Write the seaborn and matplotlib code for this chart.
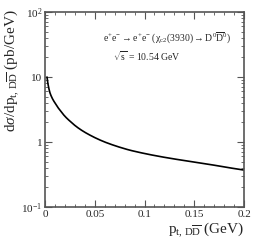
import numpy as np
import pandas as pd
import matplotlib
matplotlib.use("Agg")
import matplotlib.pyplot as plt
import matplotlib.ticker as mticker
import seaborn as sns

# === values ===
pt = [0.002, 0.005, 0.01, 0.015, 0.025, 0.035, 0.045, 0.06, 0.085, 0.11, 0.136, 0.17, 0.2]
xsec = [10.0, 5.7, 4.0, 3.1, 2.1, 1.58, 1.28, 1.0, 0.75, 0.62, 0.53, 0.44, 0.37]
ytick_vals = [0.1, 1, 10, 100]
ytick_labels = ["$10^{-1}$", "1", "10", "$10^{2}$"]
xtick_vals = [0, 0.05, 0.1, 0.15, 0.2]
xtick_labels = ["0", "0.05", "0.1", "0.15", "0.2"]

sns.set_style("ticks")
plt.rcParams["font.family"] = ["Liberation Serif", "DejaVu Serif"]
plt.rcParams["mathtext.fontset"] = "custom"
plt.rcParams["mathtext.rm"] = "Liberation Serif"
plt.rcParams["mathtext.it"] = "Liberation Serif:italic"

df = pd.DataFrame({"pt": pt, "xsec": xsec})
# smooth curve in log space between read points
xs = np.linspace(df.pt.min(), df.pt.max(), 400)
ys = np.exp(np.interp(np.log(xs), np.log(df.pt), np.log(df.xsec)))
curve = pd.DataFrame({"pt": xs, "xsec": ys})

fig = plt.figure(figsize=(2.58, 2.45), dpi=100)
ax = fig.add_axes([45 / 258, 1 - 207 / 245, 199 / 258, 195 / 245])
sns.lineplot(data=curve, x="pt", y="xsec", color="black", lw=1.2, ax=ax)

ax.set_yscale("log")
ax.set_xlim(0, 0.2)
ax.set_ylim(0.1, 100)
ax.set_yticks(ytick_vals)
ax.yaxis.set_major_formatter(mticker.FixedFormatter(ytick_labels))
ax.yaxis.set_minor_locator(mticker.LogLocator(subs=np.arange(2, 10)))
ax.yaxis.set_minor_formatter(mticker.NullFormatter())
ax.set_xticks(xtick_vals)
ax.set_xticklabels(xtick_labels)
ax.xaxis.set_minor_locator(mticker.MultipleLocator(0.01))
ax.tick_params(which="both", direction="in", top=True, right=True, labelsize=8, pad=2, color="#555555")
ax.tick_params(which="major", length=5)
ax.tick_params(which="minor", length=2.5)
for s in ax.spines.values():
    s.set_linewidth(1.2)
    s.set_color("#555555")

ax.set_xlabel(r"$\mathrm{p}_{\mathrm{t,\,D\overline{D}}}$ (GeV)", fontsize=11, loc="right", labelpad=1)
ax.set_ylabel(r"d$\sigma$/d$\mathrm{p}_{\mathrm{t,\,D\overline{D}}}$ (pb/GeV)", fontsize=11)
ax.yaxis.set_label_coords(-24 / 199, (207 - 71) / 195)

ax.text(0.29, 0.867, r"$\mathrm{e^{+}e^{-}\rightarrow e^{+}e^{-}\ (\chi_{c2}(3930)\rightarrow D^{0}\overline{D}^{0})}$",
        transform=ax.transAxes, fontsize=7, va="center")
ax.text(0.34, 0.774, r"$\sqrt{\mathrm{s}}$ = 10.54 GeV", transform=ax.transAxes, fontsize=7, va="center")

fig.savefig("out.png", dpi=100)
